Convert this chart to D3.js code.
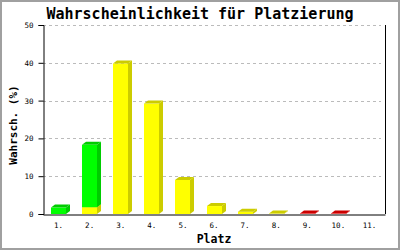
<!DOCTYPE html>
<html>
<head>
<meta charset="utf-8">
<script src="https://cdn.jsdelivr.net/npm/d3@7"></script>
<style>
  body { margin: 0; background: #fff; }
  svg { display: block; }
</style>
</head>
<body>
<div id="chart"></div>
<script>
// Data
const places = ['1.', '2.', '3.', '4.', '5.', '6.', '7.', '8.', '9.', '10.', '11.'];
const yellowVals = [0, 1.8, 39.8, 29.2, 9.0, 2.1, 0.6, 0.1, 0, 0, 0];
const greenVals = [1.7, 16.5, 0, 0, 0, 0, 0, 0, 0, 0, 0];
const redVals = [0, 0, 0, 0, 0, 0, 0, 0, 0.1, 0.1, 0];
const yTicks = [0, 10, 20, 30, 40, 50];

const series = [
    { vals: yellowVals, front: '#ffff00', dark: '#cccc00' },
    { vals: greenVals, front: '#00ff00', dark: '#00cc00' },
    { vals: redVals, front: '#ff0000', dark: '#cc0000' }
];

const W = 400, H = 250;
const plotL = 43, plotR = 385, plotT = 25, plotB = 214;
const dx = 4, dy = 3;
const mono = '"DejaVu Sans Mono", "Liberation Mono", monospace';

const svg = d3.select('#chart')
    .append('svg')
    .attr('width', W)
    .attr('height', H);

svg.append('rect')
    .attr('x', 1).attr('y', 1)
    .attr('width', W - 2).attr('height', H - 2)
    .attr('fill', '#fff')
    .attr('stroke', '#a0a0a0')
    .attr('stroke-width', 2);

const x = d3.scaleBand()
    .domain(places)
    .range([plotL, plotR])
    .paddingInner(0.52)
    .paddingOuter(0.26);

const y = d3.scaleLinear()
    .domain([0, 50])
    .range([plotB, plotT]);

// grid
svg.append('g')
    .selectAll('line')
    .data(yTicks.filter(d => d > 0))
    .enter().append('line')
    .attr('x1', plotL).attr('x2', plotR - 4)
    .attr('y1', d => Math.round(y(d)) + 0.5)
    .attr('y2', d => Math.round(y(d)) + 0.5)
    .attr('stroke', '#bbbbbb')
    .attr('stroke-dasharray', '3,3');

// bars
places.forEach((p, i) => {
    let base = 0;
    series.forEach(s => {
        const v = s.vals[i];
        if (v <= 0) return;
        const x0 = Math.round(x(p));
        const w = Math.round(x.bandwidth());
        const yb = y(base);
        const yt = y(base + v);
        const g = svg.append('g');
        g.append('rect')
            .attr('x', x0).attr('y', yt)
            .attr('width', w).attr('height', yb - yt)
            .attr('fill', s.front);
        g.append('polygon')
            .attr('points', [[x0 + w, yt], [x0 + w + dx, yt - dy], [x0 + w + dx, yb - dy], [x0 + w, yb]].join(' '))
            .attr('fill', s.dark);
        g.append('polygon')
            .attr('points', [[x0, yt], [x0 + dx, yt - dy], [x0 + w + dx, yt - dy], [x0 + w, yt]].join(' '))
            .attr('fill', s.dark);
        base += v;
    });
});

// axes
const yAxis = svg.append('g')
    .attr('transform', `translate(${plotL + 0.5}, 0)`)
    .call(d3.axisLeft(y).tickValues(yTicks).tickSize(5).tickPadding(5));
yAxis.select('.domain').attr('stroke', '#000');
yAxis.selectAll('.tick line').attr('stroke', '#000');
yAxis.selectAll('text')
    .attr('font-family', mono)
    .attr('font-size', 7.5)
    .attr('fill', '#000');

const xAxis = svg.append('g')
    .attr('transform', `translate(0, ${plotB + 0.5})`)
    .call(d3.axisBottom(x).tickSize(0).tickPadding(8));
xAxis.select('.domain').attr('stroke', '#000');
xAxis.selectAll('text')
    .attr('font-family', mono)
    .attr('font-size', 7.5)
    .attr('fill', '#000');

// right border of plot
svg.append('line')
    .attr('x1', plotR + 0.5).attr('x2', plotR + 0.5)
    .attr('y1', plotT).attr('y2', plotB)
    .attr('stroke', '#000');

// titles
svg.append('text')
    .attr('x', 200).attr('y', 19)
    .attr('text-anchor', 'middle')
    .attr('font-family', mono)
    .attr('font-weight', 'bold')
    .attr('font-size', 15)
    .text('Wahrscheinlichkeit für Platzierung');

svg.append('text')
    .attr('x', 214).attr('y', 243)
    .attr('text-anchor', 'middle')
    .attr('font-family', mono)
    .attr('font-weight', 'bold')
    .attr('font-size', 11.5)
    .text('Platz');

svg.append('text')
    .attr('transform', 'translate(17, 125) rotate(-90)')
    .attr('text-anchor', 'middle')
    .attr('font-family', mono)
    .attr('font-weight', 'bold')
    .attr('font-size', 11)
    .text('Wahrsch. (%)');
</script>
</body>
</html>
